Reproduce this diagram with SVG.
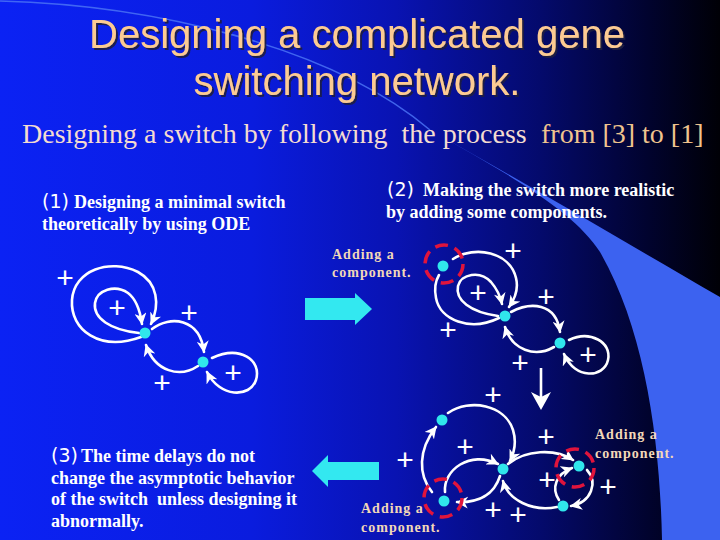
<svg xmlns="http://www.w3.org/2000/svg" width="720" height="540" viewBox="0 0 720 540">
<style>
.edge{fill:none;stroke:#ffffff;stroke-width:2.6;stroke-linecap:round}
.arr{marker-end:url(#head)}
.node{fill:#30e6ec}
.ring{fill:none;stroke:#e0143c;stroke-width:3.5;stroke-dasharray:13 7}
.plus{font-family:"Liberation Sans",Arial,sans-serif;font-size:30px;fill:#ffffff;text-anchor:middle}
.lbl{font-family:"Liberation Serif","Times New Roman",serif;font-weight:bold;font-size:18px;fill:#ffffff}
.num{font-family:"DejaVu Sans",sans-serif;font-weight:normal;font-size:19px}
.add{font-family:"Liberation Serif","Times New Roman",serif;font-weight:bold;font-size:14px;letter-spacing:1px;fill:#f2d8b8}
.sub{font-family:"Liberation Serif","Times New Roman",serif;font-size:28px}
.cyan{fill:#33e8f0}
</style>
<defs>
<linearGradient id="bg" x1="0" y1="0" x2="720" y2="0" gradientUnits="userSpaceOnUse">
<stop offset="0" stop-color="#0b22f4"/>
<stop offset="0.35" stop-color="#0a1cde"/>
<stop offset="0.55" stop-color="#0913b2"/>
<stop offset="0.75" stop-color="#040a6c"/>
<stop offset="0.9" stop-color="#01032e"/>
<stop offset="1" stop-color="#000006"/>
</linearGradient>
<marker id="head" markerUnits="userSpaceOnUse" markerWidth="12" markerHeight="12" viewBox="0 0 12 12" refX="11" refY="6" orient="auto">
<path d="M0,0 L12,6 L0,12 L3.5,6 Z" fill="#ffffff"/>
</marker>
<filter id="shadow" x="-5%" y="-20%" width="110%" height="140%">
<feDropShadow dx="2" dy="2" stdDeviation="0.6" flood-color="#1a1a40" flood-opacity="0.9"/>
</filter>
</defs>

<g id="background">
<rect x="0" y="0" width="720" height="540" fill="url(#bg)"/>
<path d="M0,1 C150,5 330,45 430,130" fill="none" stroke="#4a72f4" stroke-width="1.6" opacity="0.85"/>
<path d="M430,130 C520,180 630,245 720,297 L720,540 L662,540 C660,440 645,330 600,252 C575,212 510,175 430,130 Z" fill="#3c62f0"/>
</g>

<g id="title" filter="url(#shadow)" font-family="'Liberation Sans',Arial,sans-serif" font-size="40" fill="#fccb93" text-anchor="middle">
<text x="357" y="48">Designing a complicated gene</text>
<text x="357" y="95">switching network.</text>
</g>

<g id="subtitle" class="sub">
<text x="22" y="143" xml:space="preserve" fill="#f4dcd0">Designing a switch by following  the process</text>
<text x="541" y="143" fill="#f0c48e">from [3] to [1]</text>
</g>

<g id="text1" class="lbl">
<text x="42" y="208"><tspan class="num">(1)</tspan></text>
<text x="74" y="208">Designing a minimal switch</text>
<text x="42" y="230">theoretically by using ODE</text>
</g>
<g id="text2" class="lbl">
<text x="387" y="196"><tspan class="num">(2)</tspan></text>
<text x="423" y="196">Making the switch more realistic</text>
<text x="386" y="218">by adding some components.</text>
</g>
<g id="text3" class="lbl">
<text x="51" y="462"><tspan class="num">(3)</tspan></text>
<text x="81" y="462">The time delays do not</text>
<text x="51" y="484">change the asymptotic behavior</text>
<text x="51" y="505" xml:space="preserve">of the switch  unless designing it</text>
<text x="51" y="527">abnormally.</text>
</g>

<g id="add1" class="add"><text x="332" y="259">Adding a</text><text x="332" y="277">component.</text></g>
<g id="add2" class="add"><text x="595" y="439">Adding a</text><text x="595" y="458">component.</text></g>
<g id="add3" class="add"><text x="361" y="513">Adding a</text><text x="361" y="532">component.</text></g>

<g id="arrows">
<polygon id="arrow-right" class="cyan" points="305,298 355,298 355,293 372,309 355,325 355,320 305,320"/>
<polygon id="arrow-left" class="cyan" points="379,462 328,462 328,455 312,471 328,487 328,480 379,480"/>
<g id="arrow-down">
<line x1="541" y1="368" x2="541" y2="398" stroke="#ffffff" stroke-width="2.6"/>
<path d="M531,392 L541,410 L551,392 L541,397 Z" fill="#ffffff"/>
</g>
</g>

<g id="connectors">
<!-- network 1 -->
<path class="edge arr" d="M141,337 C100,352 70,330 72,300 C74,270 110,258 138,272 C158,283 160,305 151,324"/>
<path class="edge arr" d="M139,333 C110,330 93,318 95,303 C97,290 115,284 128,293 C136,299 140,310 142,324"/>
<path class="edge arr" d="M152,329 C170,315 200,318 204,352"/>
<path class="edge arr" d="M198,366 C180,378 155,372 146,345"/>
<path class="edge arr" d="M212,358 C240,345 262,360 256,380 C250,398 220,398 207,372"/>
<!-- network 2 -->
<path class="edge arr" d="M453,259 C475,245 510,252 516,278 C519,290 514,300 509,307"/>
<path class="edge" d="M499,318 C470,332 440,320 436,298 C434,288 436,280 439,275"/>
<path class="edge arr" d="M498,316 C470,312 455,300 458,286 C461,274 480,270 491,282 C497,289 500,295 502,304"/>
<path class="edge arr" d="M511,312 C530,302 556,302 560,332"/>
<path class="edge arr" d="M554,347 C535,358 512,350 505,327"/>
<path class="edge arr" d="M569,340 C590,330 612,342 608,360 C604,378 575,380 564,354"/>
<!-- network 3 -->
<path class="edge arr" d="M448,413 C470,398 505,405 513,430 C517,443 514,453 510,461"/>
<path class="edge arr" d="M432,492 C418,475 418,450 436,427"/>
<path class="edge arr" d="M445,492 C443,470 470,450 498,464"/>
<path class="edge arr" d="M500,476 C494,495 478,503 457,502"/>
<path class="edge arr" d="M508,464 C525,450 555,448 573,460"/>
<path class="edge arr" d="M557,507 C532,512 508,500 503,481"/>
<path class="edge arr" d="M587,470 C598,482 592,502 571,506"/>
<path class="edge arr" d="M559,500 C551,488 556,474 572,468"/>
</g>

<g id="signs" class="plus">
<text x="65" y="288">+</text><text x="117" y="318">+</text><text x="189" y="323">+</text><text x="162" y="393">+</text><text x="233" y="383">+</text>
<text x="513" y="261">+</text><text x="478" y="303">+</text><text x="448" y="340">+</text><text x="546" y="307">+</text><text x="520" y="373">+</text><text x="588" y="365">+</text>
<text x="493" y="405">+</text><text x="465" y="457">+</text><text x="405" y="470">+</text><text x="546" y="447">+</text><text x="547" y="490">+</text><text x="608" y="497">+</text><text x="493" y="520">+</text><text x="518" y="525">+</text>
</g>

<g id="n1A"><circle class="node" cx="145" cy="333" r="5.5"/></g>
<g id="n1B"><circle class="node" cx="203" cy="362" r="5.5"/></g>
<g id="n2C"><circle class="node" cx="443" cy="266" r="5.5"/><circle class="ring" cx="444" cy="264" r="19"/></g>
<g id="n2A"><circle class="node" cx="505" cy="316" r="5.5"/></g>
<g id="n2B"><circle class="node" cx="560" cy="343" r="5.5"/></g>
<g id="n3D"><circle class="node" cx="442" cy="420" r="5.5"/></g>
<g id="n3E"><circle class="node" cx="444" cy="501" r="5.5"/><circle class="ring" cx="443" cy="498" r="19"/></g>
<g id="n3F"><circle class="node" cx="503" cy="469" r="5.5"/></g>
<g id="n3G"><circle class="node" cx="579" cy="466" r="5.5"/><circle class="ring" cx="575" cy="468" r="19"/></g>
<g id="n3H"><circle class="node" cx="563" cy="506" r="5.5"/></g>
</svg>
